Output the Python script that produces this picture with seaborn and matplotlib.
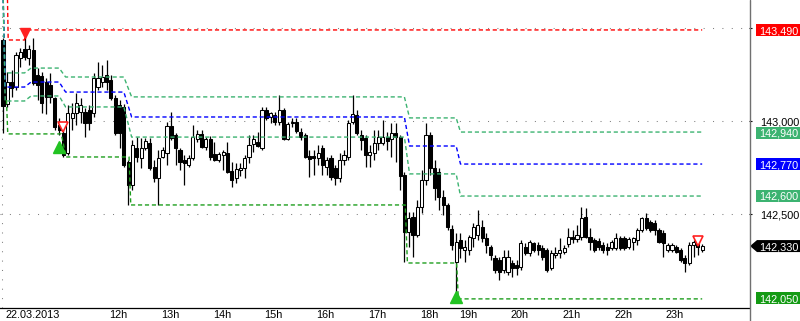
import numpy as np
import pandas as pd
import matplotlib
matplotlib.use("Agg")
import matplotlib.pyplot as plt
import matplotlib.transforms as mtrans
from matplotlib.patches import Rectangle, Polygon
from matplotlib.lines import Line2D
import seaborn as sns

# ---------------- data (5-minute candles, 22.03.2013) ----------------
opens = [143.438, 143.094, 143.212, 143.185, 143.341, 143.390, 143.341, 143.384, 143.250, 143.244,
         143.212, 143.196, 143.126, 142.981, 142.938, 142.830, 143.019, 143.046, 143.051, 143.051,
         143.062, 143.046, 143.185, 143.212, 143.250, 143.223, 143.126, 143.089, 143.078, 142.782,
         142.658, 142.857, 142.804, 142.857, 142.884, 142.755, 142.696, 142.809, 142.830, 142.976,
         142.927, 142.847, 142.793, 142.766, 142.804, 142.906, 142.933, 142.863, 142.906, 142.825,
         142.793, 142.820, 142.830, 142.734, 142.696, 142.739, 142.750, 142.809, 142.879, 142.890,
         142.857, 143.062, 143.024, 143.035, 142.997, 143.062, 142.906, 142.992, 142.997, 142.943,
         142.927, 142.814, 142.814, 142.804, 142.857, 142.755, 142.804, 142.750, 142.696, 142.793,
         142.809, 142.997, 143.035, 142.927, 142.911, 142.820, 142.830, 142.884, 142.884, 142.916,
         142.906, 142.938, 142.916, 142.712, 142.406, 142.486, 142.390, 142.540, 142.685, 142.927,
         142.750, 142.728, 142.594, 142.551, 142.422, 142.244, 142.363, 142.309, 142.309, 142.373,
         142.390, 142.433, 142.373, 142.325, 142.266, 142.255, 142.201, 142.191, 142.239, 142.228,
         142.218, 142.325, 142.293, 142.347, 142.336, 142.320, 142.309, 142.212, 142.282, 142.293,
         142.298, 142.341, 142.379, 142.368, 142.379, 142.486, 142.379, 142.363, 142.357, 142.336,
         142.325, 142.320, 142.320, 142.373, 142.373, 142.325, 142.352, 142.363, 142.417, 142.481,
         142.460, 142.454, 142.417, 142.400, 142.309, 142.309, 142.325, 142.309, 142.266, 142.239,
         142.336, 142.352, 142.309]
highs = [143.449, 143.266, 143.277, 143.373, 143.395, 143.492, 143.411, 143.449, 143.287, 143.266,
         143.234, 143.261, 143.132, 143.019, 142.965, 143.089, 143.099, 143.153, 143.126, 143.072,
         143.089, 143.261, 143.320, 143.304, 143.330, 143.250, 143.142, 143.115, 143.094, 142.793,
         142.900, 142.916, 142.911, 142.911, 142.911, 142.793, 142.847, 142.863, 142.997, 143.051,
         142.938, 142.857, 142.820, 142.820, 142.981, 142.954, 142.954, 142.916, 142.922, 142.890,
         142.836, 142.847, 142.890, 142.782, 142.777, 142.777, 142.820, 142.927, 142.927, 142.943,
         143.078, 143.078, 143.051, 143.051, 143.142, 143.072, 142.997, 143.019, 143.019, 142.965,
         142.938, 142.847, 142.847, 142.873, 142.873, 142.809, 142.820, 142.766, 142.830, 142.847,
         143.008, 143.142, 143.062, 142.954, 142.927, 142.873, 142.954, 142.954, 143.008, 142.943,
         142.992, 142.992, 142.927, 142.728, 142.513, 142.513, 142.578, 142.739, 142.992, 142.943,
         142.793, 142.750, 142.632, 142.562, 142.443, 142.400, 142.400, 142.363, 142.390, 142.454,
         142.524, 142.470, 142.400, 142.336, 142.282, 142.271, 142.309, 142.309, 142.255, 142.255,
         142.363, 142.347, 142.363, 142.352, 142.352, 142.336, 142.320, 142.309, 142.325, 142.373,
         142.336, 142.427, 142.417, 142.443, 142.540, 142.535, 142.427, 142.373, 142.373, 142.352,
         142.347, 142.363, 142.400, 142.384, 142.384, 142.379, 142.379, 142.427, 142.486, 142.508,
         142.470, 142.470, 142.427, 142.417, 142.347, 142.347, 142.336, 142.320, 142.282, 142.352,
         142.363, 142.373, 142.341]
lows = [142.938, 143.078, 143.132, 143.169, 143.293, 143.330, 143.304, 143.196, 143.115, 143.046,
        143.040, 143.099, 142.954, 142.927, 142.809, 142.820, 142.954, 142.981, 142.992, 142.916,
        142.954, 143.024, 143.169, 143.185, 143.169, 143.115, 142.927, 142.857, 142.755, 142.551,
        142.632, 142.782, 142.750, 142.847, 142.739, 142.675, 142.551, 142.804, 142.766, 142.900,
        142.766, 142.739, 142.658, 142.755, 142.793, 142.890, 142.857, 142.847, 142.793, 142.787,
        142.782, 142.739, 142.723, 142.648, 142.669, 142.707, 142.696, 142.777, 142.836, 142.863,
        142.847, 143.008, 142.992, 142.981, 142.981, 142.900, 142.900, 142.970, 142.938, 142.900,
        142.804, 142.701, 142.712, 142.766, 142.712, 142.712, 142.685, 142.658, 142.675, 142.766,
        142.793, 142.986, 142.927, 142.847, 142.755, 142.755, 142.793, 142.847, 142.873, 142.847,
        142.809, 142.782, 142.632, 142.244, 142.325, 142.271, 142.379, 142.508, 142.658, 142.712,
        142.578, 142.524, 142.497, 142.417, 142.309, 142.046, 142.266, 142.244, 142.282, 142.325,
        142.363, 142.352, 142.293, 142.255, 142.185, 142.148, 142.185, 142.175, 142.164, 142.175,
        142.201, 142.282, 142.277, 142.298, 142.282, 142.255, 142.191, 142.201, 142.266, 142.266,
        142.287, 142.325, 142.347, 142.352, 142.363, 142.373, 142.309, 142.298, 142.309, 142.293,
        142.282, 142.309, 142.309, 142.309, 142.309, 142.314, 142.309, 142.336, 142.406, 142.417,
        142.406, 142.390, 142.347, 142.271, 142.298, 142.298, 142.293, 142.244, 142.191, 142.228,
        142.271, 142.282, 142.298]
closes = [143.083, 143.212, 143.180, 143.357, 143.373, 143.347, 143.390, 143.207, 143.196, 143.099,
          143.132, 143.132, 142.970, 142.954, 142.820, 143.046, 143.046, 143.099, 143.089, 142.992,
          142.992, 143.234, 143.234, 143.239, 143.212, 143.126, 142.938, 142.938, 142.766, 142.658,
          142.873, 142.809, 142.857, 142.895, 142.750, 142.696, 142.804, 142.847, 142.976, 142.911,
          142.857, 142.782, 142.777, 142.804, 142.916, 142.933, 142.863, 142.906, 142.809, 142.793,
          142.825, 142.836, 142.728, 142.685, 142.744, 142.750, 142.804, 142.873, 142.906, 142.868,
          143.062, 143.019, 143.046, 142.997, 143.062, 142.906, 142.986, 142.997, 142.949, 142.916,
          142.809, 142.798, 142.804, 142.830, 142.766, 142.793, 142.701, 142.696, 142.793, 142.820,
          142.992, 143.040, 142.938, 142.900, 142.820, 142.836, 142.884, 142.916, 142.916, 142.895,
          142.938, 142.916, 142.707, 142.406, 142.481, 142.390, 142.540, 142.685, 142.927, 142.750,
          142.642, 142.594, 142.551, 142.433, 142.336, 142.352, 142.320, 142.325, 142.379, 142.433,
          142.443, 142.373, 142.336, 142.282, 142.201, 142.191, 142.271, 142.271, 142.212, 142.212,
          142.347, 142.293, 142.352, 142.309, 142.309, 142.271, 142.201, 142.293, 142.293, 142.309,
          142.320, 142.379, 142.368, 142.390, 142.481, 142.379, 142.352, 142.309, 142.325, 142.309,
          142.309, 142.352, 142.373, 142.320, 142.320, 142.368, 142.373, 142.417, 142.481, 142.427,
          142.417, 142.417, 142.352, 142.347, 142.336, 142.336, 142.298, 142.255, 142.239, 142.336,
          142.352, 142.325, 142.330]

hour_ticks = [0, 24, 36, 48, 60, 72, 84, 96, 105, 117, 129, 141, 153]
hour_labels = ["22.03.2013", "12h", "13h", "14h", "15h", "16h", "17h", "18h",
               "19h", "20h", "21h", "22h", "23h"]

# channel indicator (vertices of stepped lines)
chan_x = [0, 0.5, 5, 6.5, 13, 14.5, 28, 29.8, 93, 94.2, 105, 106, 162]
chan_upper = [143.70, 143.261, 143.261, 143.287, 143.287, 143.239, 143.239, 143.132,
              143.132, 143.019, 143.019, 142.943, 142.943]
chan_mid = [143.70, 143.185, 143.185, 143.212, 143.212, 143.158, 143.158, 143.024,
            143.024, 142.868, 142.868, 142.771, 142.771]
chan_lower = [143.70, 143.110, 143.110, 143.137, 143.137, 143.078, 143.078, 142.916,
              142.916, 142.718, 142.718, 142.599, 142.599]

# support / resistance levels
sup_x = [0.8, 1.1, 13.5, 14.6, 29.2, 29.6, 93.2, 93.7, 105.1, 105.5, 162]
sup_y = [143.115, 142.933, 142.933, 142.809, 142.809, 142.551, 142.551, 142.239,
         142.239, 142.046, 142.046]
res_x = [1, 1.2, 5, 5.2, 162]
res_y = [143.70, 143.438, 143.438, 143.492, 143.492]

# signal markers
sell_fill_x, sell_fill_y = [5], [143.478]
sell_open_x, sell_open_y = [14, 161], [142.970, 142.357]
buy_x, buy_y = [13, 105], [142.863, 142.058]

# right-hand price labels
level_vals = [143.490, 142.940, 142.770, 142.600, 142.050]
level_colors = ["#ff0000", "#3cb371", "#0000ff", "#3cb371", "#149a14"]
last_price = 142.330
grid_levels = [143.5, 143.0, 142.5]
grid_labels = ["", "143,000", "142,500"]

# ---------------- figure ----------------
W, H = 800, 321
sns.set_style("white")
plt.rcParams["font.family"] = ["Liberation Sans", "DejaVu Sans"]

fig = plt.figure(figsize=(W / 100, H / 100), dpi=100)
ax_left, ax_bottom, ax_right = 0, 13, 749
ax = fig.add_axes([ax_left / W, ax_bottom / H, (ax_right - ax_left) / W, (H - ax_bottom) / H])
ax.set_facecolor("white")
ax.set_xlim(-0.7, 172.85)
ax.set_ylim(141.997, 143.653)

# grid lines
for g in grid_levels:
    ax.axhline(g, color="#808080", lw=0.75, ls=(0, (1, 8)), zorder=0.5)
ax.axvline(hour_ticks[0] - 0.15, color="#808080", lw=0.75, ls=(0, (1, 8)), zorder=0.5)

# candles
df = pd.DataFrame({"i": np.arange(len(opens)), "o": opens, "h": highs, "l": lows, "c": closes})
ax.vlines(df["i"], df["l"], df["h"], color="black", lw=0.9, zorder=2)
bull = df["c"] >= df["o"]
bottoms = np.minimum(df["o"], df["c"])
heights = np.maximum(np.abs(df["c"] - df["o"]), 0.002)
ax.bar(df["i"][bull], heights[bull], bottom=bottoms[bull], width=0.72,
       color="white", edgecolor="black", linewidth=0.75, zorder=3)
ax.bar(df["i"][~bull], heights[~bull], bottom=bottoms[~bull], width=0.72,
       color="black", edgecolor="black", linewidth=0.75, zorder=3)

# channel lines (seaborn)
dash = (0, (3, 2))
for yv, col in [(chan_upper, "#3cb371"), (chan_mid, "#0000ff"), (chan_lower, "#3cb371")]:
    sns.lineplot(x=chan_x, y=yv, ax=ax, color=col, lw=1.0, linestyle=dash,
                 estimator=None, sort=False, zorder=4)
sns.lineplot(x=sup_x, y=sup_y, ax=ax, color="#1e9e1e", lw=1.0, linestyle=dash,
             estimator=None, sort=False, zorder=4)
sns.lineplot(x=res_x, y=res_y, ax=ax, color="#ff0000", lw=1.0, linestyle=dash,
             estimator=None, sort=False, zorder=4)

# signal markers
ax.plot(sell_fill_x, sell_fill_y, ls="none", marker="v", ms=7.5, color="#ff2020",
        markeredgecolor="#ff2020", zorder=6)
ax.plot(sell_open_x, sell_open_y, ls="none", marker="v", ms=7, markerfacecolor="white",
        markeredgecolor="#ff2020", markeredgewidth=1.2, zorder=6)
ax.plot(buy_x, buy_y, ls="none", marker="^", ms=8, color="#22c322",
        markeredgecolor="#22c322", zorder=6)

# axes styling
for s in ["top", "left", "right"]:
    ax.spines[s].set_visible(False)
ax.spines["bottom"].set_color("black")
ax.spines["bottom"].set_linewidth(0.9)
fig.add_artist(Line2D([(ax_right + 0.5) / W] * 2, [0, 1], color="#707070", lw=1.0))

ax.set_xticks(hour_ticks)
ax.set_xticklabels([])
ax.tick_params(axis="x", direction="out", length=3.2, width=0.8, color="black")
lbl_tr = mtrans.blended_transform_factory(ax.transData, ax.transAxes)
off = mtrans.ScaledTranslation(2.5 / 100, -2.5 / 100, fig.dpi_scale_trans)
for t, lab in zip(hour_ticks, hour_labels):
    ax.text(t, 0, lab, transform=lbl_tr + off, ha="left", va="top", fontsize=7.8, color="black")

ax.yaxis.tick_right()
ax.set_yticks(grid_levels)
ax.set_yticklabels(grid_labels)
ax.tick_params(axis="y", direction="out", length=2.5, width=0.8, pad=5.5,
               labelsize=7.8, colors="black")
ax.set_xlabel("")
ax.set_ylabel("")

# coloured price boxes on the right
bt = mtrans.blended_transform_factory(fig.transFigure, ax.transData)
half = 6.0 / 186.0
for v, col in zip(level_vals, level_colors):
    ax.add_patch(Rectangle((756 / W, v - half), 1 - 756 / W, 2 * half, transform=bt,
                           facecolor=col, edgecolor="none", clip_on=False, zorder=7))
    ax.text(759.5 / W, v, f"{v:.3f}".replace(".", ","), transform=bt, ha="left",
            va="center_baseline", fontsize=7.8, color="white", clip_on=False, zorder=8)
ax.add_patch(Polygon([(750 / W, last_price), (757 / W, last_price + half),
                      (1.0, last_price + half), (1.0, last_price - half),
                      (757 / W, last_price - half)], closed=True, transform=bt,
                     facecolor="black", edgecolor="none", clip_on=False, zorder=7))
ax.text(759.5 / W, last_price, f"{last_price:.3f}".replace(".", ","), transform=bt,
        ha="left", va="center_baseline", fontsize=7.8, color="white", clip_on=False, zorder=8)

fig.savefig("out.png", dpi=100, facecolor="white")
